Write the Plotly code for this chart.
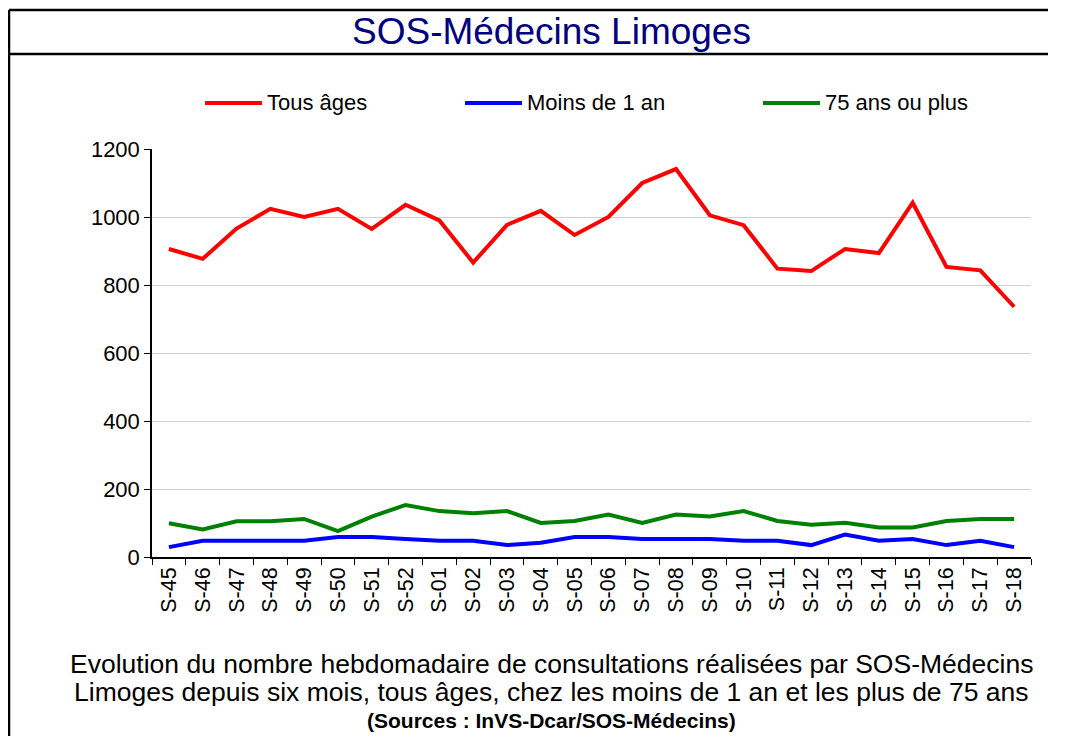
import plotly.graph_objects as go

# semaines
semaines = ["S-45", "S-46", "S-47", "S-48", "S-49", "S-50", "S-51", "S-52",
            "S-01", "S-02", "S-03", "S-04", "S-05", "S-06", "S-07", "S-08",
            "S-09", "S-10", "S-11", "S-12", "S-13", "S-14", "S-15", "S-16",
            "S-17", "S-18"]

# nombre de consultations
tous_ages = [906, 877, 966, 1024, 1000, 1024, 965, 1036, 990, 866, 977, 1018, 947,
             1000, 1100, 1141, 1005, 976, 848, 841, 906, 894, 1042, 853, 843, 736]
moins_1_an = [29, 48, 48, 48, 48, 59, 59, 53, 48, 48, 35, 42, 59,
              59, 53, 53, 53, 48, 48, 35, 66, 48, 53, 35, 48, 29]
plus_75_ans = [99, 81, 105, 105, 112, 76, 119, 153, 135, 129, 135, 100, 106,
               125, 100, 125, 119, 135, 106, 95, 101, 87, 87, 106, 112, 112]

series = [
    ("Tous âges", tous_ages, "#FF0000"),
    ("Moins de 1 an", moins_1_an, "#0000FF"),
    ("75 ans ou plus", plus_75_ans, "#008000"),
]

# la page ajoute une marge de 8 px autour de la figure
OFF = 8
W, H = 1040, 744 - 2 * OFF
# zone de tracé (pixels de la page)
X0, X1, Y0, Y1 = 152, 1031, 149, 557
FONT = "Liberation Sans, Arial, sans-serif"


def px(x):
    return (x - X0) / (X1 - X0)


def py(y):
    return (Y1 - y) / (Y1 - Y0)


fig = go.Figure()
for nom, valeurs, couleur in series:
    fig.add_trace(go.Scatter(x=semaines, y=valeurs, name=nom, mode="lines",
                             line=dict(color=couleur, width=4), showlegend=False))

shapes = []
annotations = []

# cadre
noir = dict(color="black", width=2.5)
shapes.append(dict(type="line", xref="paper", yref="paper", x0=px(9), x1=px(9), y0=py(10), y1=py(760), line=noir))
shapes.append(dict(type="line", xref="paper", yref="paper", x0=px(9), x1=px(1100), y0=py(10), y1=py(10), line=noir))
shapes.append(dict(type="line", xref="paper", yref="paper", x0=px(9), x1=px(1100), y0=py(54), y1=py(54), line=noir))

# légende manuelle
legende_x = [205, 465, 763]
for (nom, valeurs, couleur), lx in zip(series, legende_x):
    shapes.append(dict(type="line", xref="paper", yref="paper", x0=px(lx), x1=px(lx + 57),
                       y0=py(103), y1=py(103), line=dict(color=couleur, width=4)))
    annotations.append(dict(text=nom, xref="paper", yref="paper", x=px(lx + 60), y=py(103),
                            xanchor="left", yanchor="middle", showarrow=False,
                            font=dict(family=FONT, size=22, color="black")))

# titre
annotations.append(dict(text="SOS-Médecins Limoges", xref="paper", yref="paper",
                        x=px(551), y=py(32), xanchor="center", yanchor="middle", showarrow=False,
                        font=dict(family=FONT, size=37, color="#000080")))

# texte du bas
annotations.append(dict(text="Evolution du nombre hebdomadaire de consultations réalisées par SOS-Médecins",
                        xref="paper", yref="paper", x=px(551), y=py(664), xanchor="center",
                        yanchor="middle", showarrow=False, font=dict(family=FONT, size=26.5, color="black")))
annotations.append(dict(text="Limoges depuis six mois, tous âges, chez les moins de 1 an et les plus de 75 ans",
                        xref="paper", yref="paper", x=px(551), y=py(692), xanchor="center",
                        yanchor="middle", showarrow=False, font=dict(family=FONT, size=26.5, color="black")))
annotations.append(dict(text="<b>(Sources : InVS-Dcar/SOS-Médecins)</b>",
                        xref="paper", yref="paper", x=px(551), y=py(720), xanchor="center",
                        yanchor="middle", showarrow=False, font=dict(family=FONT, size=21, color="black")))

fig.update_layout(
    width=W, height=H,
    margin=dict(l=X0 - OFF, r=W - (X1 - OFF), t=Y0 - OFF, b=H - (Y1 - OFF)),
    paper_bgcolor="white", plot_bgcolor="white",
    font=dict(family=FONT, size=22, color="black"),
    showlegend=False,
    shapes=shapes,
    annotations=annotations,
    xaxis=dict(type="category", range=[-0.5, len(semaines) - 0.5], tickangle=-90,
               tickson="boundaries", ticks="outside", ticklen=6, tickcolor="black",
               showline=True, linecolor="black", linewidth=1.5, showgrid=False,
               tickfont=dict(size=21.5)),
    yaxis=dict(range=[0, 1200], dtick=200, ticks="outside", ticklen=6, tickcolor="black",
               showline=True, linecolor="black", linewidth=1.5,
               showgrid=True, gridcolor="#d0d0d0", gridwidth=1, zeroline=False,
               tickfont=dict(size=22)),
)

fig.write_html("out.html")
